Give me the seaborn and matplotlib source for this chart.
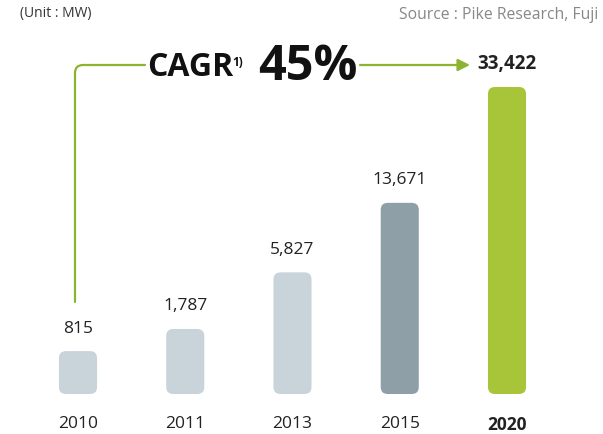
import numpy as np
import pandas as pd
import matplotlib.pyplot as plt
from matplotlib.patches import FancyBboxPatch
from matplotlib.transforms import IdentityTransform
import seaborn as sns

years = ['2010', '2011', '2013', '2015', '2020']
capacity = [815, 1787, 5827, 13671, 33422]
labels = ['815', '1,787', '5,827', '13,671', '33,422']
colors = ['#C8D3DA', '#C8D3DA', '#C8D3DA', '#8E9FA8', '#A8C53A']

df = pd.DataFrame({'year': years, 'mw': capacity})

sns.set_theme(style='white')
plt.rcParams['font.family'] = ['Open Sans', 'DejaVu Sans']

W, H = 603, 435
fig = plt.figure(figsize=(W / 100, H / 100), dpi=100)


def fp(x, y):
    # pixel position (from top-left) -> figure fraction
    return x / W, 1 - y / H


# axes: bottom at 395 px, top at 20 px
ax = fig.add_axes([0, 1 - 395 / H, 1, (395 - 20) / H])

# bars in the original are compressed: use a power scale
p = 0.53
ax.set_yscale('function', functions=(lambda v: np.sign(v) * np.abs(v) ** p,
                                     lambda v: np.sign(v) * np.abs(v) ** (1 / p)))

sns.barplot(data=df, x='year', y='mw', hue='year', palette=colors,
            legend=False, width=0.355, ax=ax)

ymax = (max(capacity) ** p * 375 / 307) ** (1 / p)
ax.set_ylim(0, ymax)
ax.set_xlim(-78 / 107.25, (W - 78) / 107.25)

# replace the bars with rounded ones
for patch, c in zip(list(ax.patches), colors):
    bb = patch.get_window_extent()
    patch.set_visible(False)
    fig.patches.append(FancyBboxPatch((bb.x0, bb.y0), bb.width, bb.height,
                                      boxstyle='round,pad=0,rounding_size=7',
                                      fc=c, ec='none', transform=IdentityTransform(),
                                      figure=fig))

for i, (v, lab) in enumerate(zip(capacity, labels)):
    last = i == len(capacity) - 1
    ax.annotate(lab, (i, v), xytext=(0, 17), textcoords='offset points',
                ha='center', va='center', fontsize=13.5 if last else 12.5,
                color='#222222', fontweight='bold' if last else 'normal')

ax.set_xlabel('')
ax.set_ylabel('')
ax.set_yticks([])
ax.tick_params(axis='x', length=0, pad=15, labelsize=12.5, labelcolor='#222222')
ax.get_xticklabels()[-1].set_fontweight('bold')
sns.despine(ax=ax, left=True, bottom=True)

# header texts
fig.text(*fp(20, 14), '(Unit : MW)', fontsize=10, color='#333333', va='center')
fig.text(*fp(598, 15), 'Source : Pike Research, Fuji', fontsize=11.3,
         color='#888888', va='center', ha='right')

# CAGR call-out
green = '#8DB32F'
fig.text(*fp(147, 68), 'CAGR', fontsize=23, fontweight='bold', color='#111111',
         va='center', ha='left')
fig.text(*fp(232, 62), '1)', fontsize=8.5, fontweight='bold', color='#111111',
         va='center', ha='left')
fig.text(*fp(258, 67), '45%', fontsize=35, fontweight='bold', color='#111111',
         va='center', ha='left')

ax.annotate('', xy=fp(145, 66), xycoords='figure fraction',
            xytext=fp(75, 303), textcoords='figure fraction',
            arrowprops=dict(arrowstyle='-', color=green, lw=1.6,
                            shrinkA=0, shrinkB=0,
                            connectionstyle='angle,angleA=90,angleB=0,rad=8'))
ax.annotate('', xy=fp(470, 66), xycoords='figure fraction',
            xytext=fp(360, 66), textcoords='figure fraction',
            arrowprops=dict(arrowstyle='-|>,head_length=0.6,head_width=0.3',
                            color=green, lw=1.6, shrinkA=0, shrinkB=0))

fig.savefig('out.png', dpi=100)
